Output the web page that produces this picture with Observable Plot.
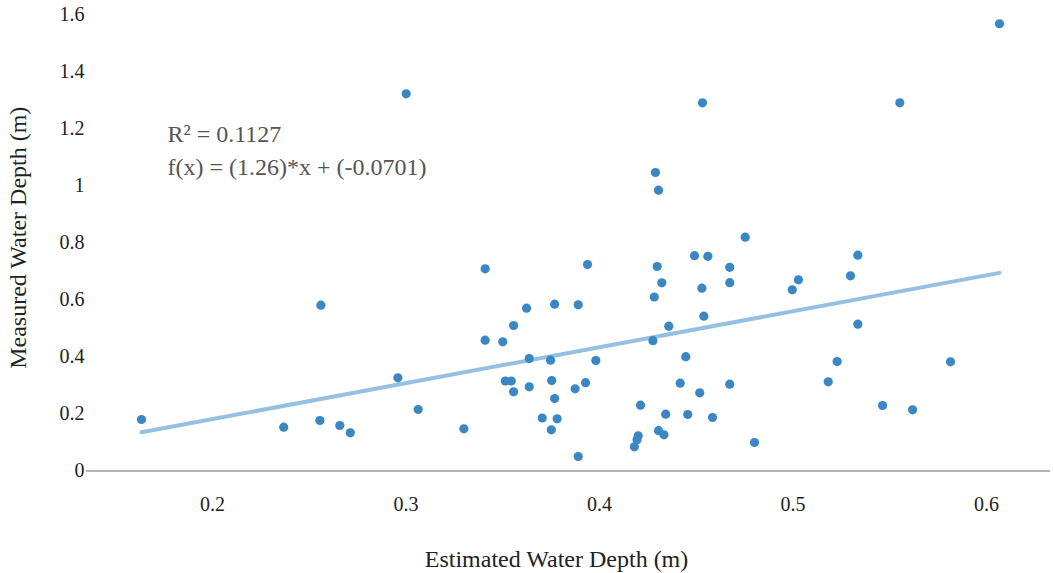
<!DOCTYPE html>
<html>
<head>
<meta charset="utf-8">
<script src="https://cdn.jsdelivr.net/npm/d3@7"></script>
<script src="https://cdn.jsdelivr.net/npm/@observablehq/plot@0.6"></script>
<style>
  html, body { margin: 0; padding: 0; background: #fff; }
  #chart svg { display: block; }
  #chart svg text { font-family: 'Liberation Serif', 'Times New Roman', serif; }
</style>
</head>
<body>
<div id="chart"></div>
<script>
// Estimated water depth (m)
const estimated = [
  0.1633, 0.2368, 0.2560, 0.2555, 0.2658, 0.2712, 0.2958, 0.3001, 0.3063, 0.3299,
  0.3409, 0.3409, 0.3500, 0.3513, 0.3544, 0.3556, 0.3556, 0.3623, 0.3637, 0.3637,
  0.3704, 0.3747, 0.3753, 0.3768, 0.3768, 0.3781, 0.3751, 0.3890, 0.3938, 0.3874,
  0.3928, 0.3981, 0.3890, 0.4212, 0.4200, 0.4194, 0.4180, 0.4276, 0.6067, 0.4532,
  0.5552, 0.4289, 0.4305, 0.4753, 0.4491, 0.4560, 0.5335, 0.4298, 0.4673, 0.4322,
  0.4529, 0.4673, 0.4283, 0.5028, 0.4996, 0.5297, 0.4539, 0.4358, 0.5335, 0.4446,
  0.5228, 0.5814, 0.5182, 0.4417, 0.4673, 0.4518, 0.5463, 0.5618, 0.4342, 0.4456,
  0.4584, 0.4305, 0.4333, 0.4801
];
// Measured water depth (m)
const measured = [
  0.1805, 0.1535, 0.5811, 0.1770, 0.1595, 0.1339, 0.3267, 1.3221, 0.2156, 0.1479,
  0.7087, 0.4585, 0.4529, 0.3155, 0.3155, 0.5100, 0.2776, 0.5706, 0.3943, 0.2951,
  0.1858, 0.3884, 0.3172, 0.5846, 0.2541, 0.1830, 0.1444, 0.5825, 0.7238, 0.2881,
  0.3095, 0.3873, 0.0508, 0.2306, 0.1234, 0.1094, 0.0848, 0.4567, 1.5675, 1.2906,
  1.2906, 1.0463, 0.9842, 0.8195, 0.7546, 0.7525, 0.7564, 0.7168, 0.7140, 0.6597,
  0.6407, 0.6600, 0.6099, 0.6702, 0.6351, 0.6842, 0.5426, 0.5075, 0.5145, 0.4006,
  0.3838, 0.3828, 0.3127, 0.3077, 0.3042, 0.2741, 0.2296, 0.2145, 0.1991, 0.1980,
  0.1875, 0.1413, 0.1269, 0.0999
];
// Fit shown on the chart
const fitSlope = 1.26;
const fitIntercept = -0.0701;
const rSquared = 0.1127;
// Axis ticks
const xTicks = [0.2, 0.3, 0.4, 0.5, 0.6];
const yTicks = [0, 0.2, 0.4, 0.6, 0.8, 1, 1.2, 1.4, 1.6];
const xLabel = "Estimated Water Depth (m)";
const yLabel = "Measured Water Depth (m)";

const points = estimated.map((x, i) => ({x, y: measured[i]}));
const [xmin, xmax] = d3.extent(estimated);
const fitLine = [xmin, xmax].map(x => ({x, y: fitSlope * x + fitIntercept}));
const annotation = [
  `R² = ${rSquared}`,
  `f(x) = (${fitSlope})*x + (${fitIntercept})`
].join("\n");

const font = "'Liberation Serif', 'Times New Roman', serif";
const fmt = d3.format("~g");

const chart = Plot.plot({
  width: 1053,
  height: 573,
  marginLeft: 86,
  marginRight: 3,
  marginTop: 14,
  marginBottom: 102.5,
  style: {fontFamily: font, background: "#fff"},
  x: {domain: [0.13488, 0.63307]},
  y: {domain: [0, 1.6]},
  marks: [
    Plot.ruleY([0], {stroke: "#9a9a9a", strokeWidth: 1.5}),
    Plot.axisX(xTicks, {tickSize: 0, tickPadding: 26, fontSize: 20, fontFamily: font, fill: "#222", tickFormat: fmt, label: null}),
    Plot.axisY(yTicks, {tickSize: 0, tickPadding: 2, fontSize: 20, fontFamily: font, fill: "#222", tickFormat: fmt, label: null}),
    Plot.line(fitLine, {x: "x", y: "y", stroke: "#8fbde0", strokeWidth: 4, strokeOpacity: 0.95}),
    Plot.dot(points, {x: "x", y: "y", r: 4.6, fill: "#3a87c3", stroke: "none"}),
    Plot.text([annotation], {text: d => d, frameAnchor: "top-left", dx: 81, dy: 104, textAnchor: "start", lineAnchor: "top", lineHeight: 1.375, fontSize: 24, fontFamily: font, fill: "#555"}),
    Plot.text([xLabel], {text: d => d, frameAnchor: "bottom", dx: -12, dy: 88, textAnchor: "middle", lineAnchor: "middle", fontSize: 24, fontFamily: font, fill: "#222"}),
    Plot.text([yLabel], {text: d => d, frameAnchor: "left", rotate: -90, dx: -68, dy: -5, textAnchor: "middle", lineAnchor: "middle", fontSize: 24, fontFamily: font, fill: "#222"})
  ]
});
document.getElementById("chart").appendChild(chart);
</script>
</body>
</html>
